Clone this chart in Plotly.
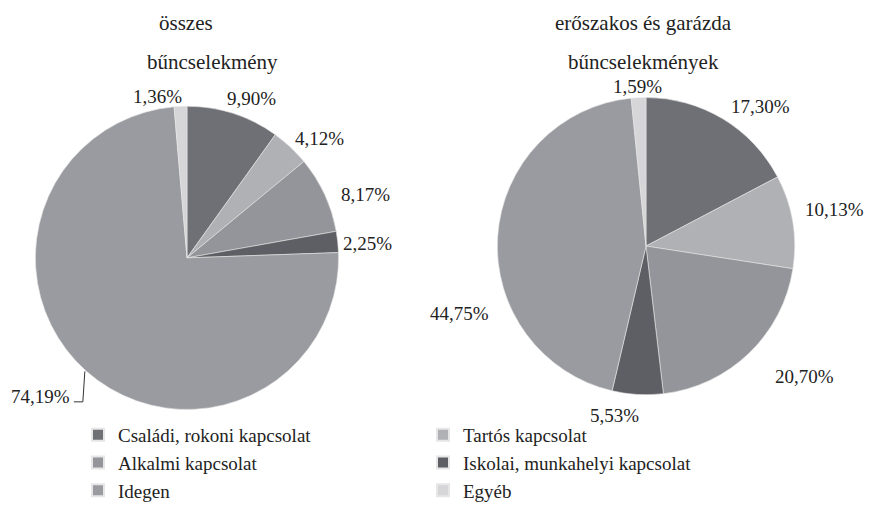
import math
import plotly.graph_objects as go

categories = ["Családi, rokoni kapcsolat", "Tartós kapcsolat", "Alkalmi kapcsolat",
              "Iskolai, munkahelyi kapcsolat", "Idegen", "Egyéb"]
osszes = [9.90, 4.12, 8.17, 2.25, 74.19, 1.36]
eroszakos = [17.30, 10.13, 20.70, 5.53, 44.75, 1.59]
colors = ["#6f7075", "#b0b1b5", "#94959a", "#5e5f64", "#9a9ba0", "#d6d6d8"]
titles_left = ["összes", "bűncselekmény"]
titles_right = ["erőszakos és garázda", "bűncselekmények"]

# layout tuning (label placement, not data)
W, H = 873, 510
pies = [
    dict(values=osszes, cx=187, cy=262, r=154,
         nudge=[4, 4.5, 5, 1.5, 0, -7.6], pad=[0, -3, 5, -3, 0, -4], leader=4),
    dict(values=eroszakos, cx=646, cy=250, r=151,
         nudge=[7.7, -1.6, -6, 7, -24, -0.3], pad=[2, 5, 23, 8, 12, -2], leader=None),
]

font = "Liberation Serif, Times New Roman, serif"
txtcol = "#222222"

fig = go.Figure()
ann = []
shapes = []

def fmt(v):
    return f"{v:.2f}".replace(".", ",") + "%"

for k, p in enumerate(pies):
    vals = p["values"]
    cx, cy, r = p["cx"], p["cy"], p["r"]
    fig.add_trace(go.Pie(
        values=vals, labels=categories, sort=False, direction="clockwise", rotation=0,
        marker=dict(colors=colors, line=dict(color="#e6e6e6", width=0.6)),
        textinfo="none", hoverinfo="label+value",
        domain=dict(x=[(cx - r) / W, (cx + r) / W], y=[1 - (cy + r) / H, 1 - (cy - r) / H]),
        showlegend=(k == 0), name=titles_left[0] if k == 0 else titles_right[0],
    ))
    total = sum(vals)
    cum = 0.0
    for i, v in enumerate(vals):
        mid = 360.0 * (cum + v / 2) / total
        cum += v
        txt = fmt(v)
        if p["leader"] == i:
            th = math.radians(mid)
            ex, ey = cx + r * math.sin(th), cy - r * math.cos(th)
            path = "M {:.4f},{:.4f} L {:.4f},{:.4f} L {:.4f},{:.4f}".format(
                ex / W, 1 - ey / H, (ex - 2) / W, 1 - (ey + 31) / H, (ex - 11) / W, 1 - (ey + 31) / H)
            shapes.append(dict(type="path", path=path, xref="paper", yref="paper",
                               line=dict(color="#333333", width=1)))
            ann.append(dict(text=txt, x=(ex - 13) / W, y=1 - (ey + 26) / H,
                            xanchor="right", yanchor="middle"))
            continue
        th = math.radians(mid + p["nudge"][i])
        w = 10 * len(txt)
        d = r + 5 + 0.5 * w * abs(math.sin(th)) + 7 * abs(math.cos(th)) + p["pad"][i]
        x = cx + d * math.sin(th)
        y = cy - d * math.cos(th)
        ann.append(dict(text=txt, x=x / W, y=1 - y / H, xanchor="center", yanchor="middle"))

for a in ann:
    a.update(font=dict(family=font, size=19, color=txtcol))

titles = [(titles_left[0], 186, 23), (titles_left[1], 212, 63),
          (titles_right[0], 643, 23), (titles_right[1], 643, 63)]
for t, x, y in titles:
    ann.append(dict(text=t, x=x / W, y=1 - y / H, xanchor="center", yanchor="middle",
                    font=dict(family=font, size=21, color=txtcol)))
for a in ann:
    a.update(xref="paper", yref="paper", showarrow=False)

fig.update_layout(
    width=W, height=H, margin=dict(l=0, r=0, t=0, b=0),
    paper_bgcolor="white", plot_bgcolor="white",
    separators=", ",
    annotations=ann, shapes=shapes,
    legend=dict(orientation="h", x=78 / W, y=1 - 423 / H, xanchor="left", yanchor="top",
                entrywidth=300, entrywidthmode="pixels", traceorder="normal",
                font=dict(family=font, size=19, color=txtcol), itemsizing="constant"),
)
fig.write_html("out.html", config={"displayModeBar": False},
               post_script="document.body.style.margin='0px';")
